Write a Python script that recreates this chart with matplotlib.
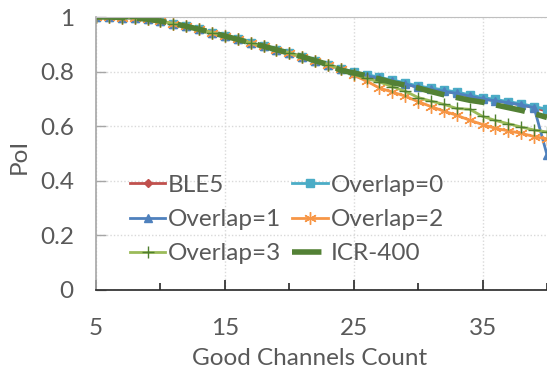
import matplotlib
matplotlib.use("Agg")
import matplotlib.pyplot as plt
from matplotlib.ticker import FixedLocator

# Datos
canales = list(range(5, 41))
y_ticks = [0, 0.2, 0.4, 0.6, 0.8, 1.0]
y_etiquetas = ["0", "0.2", "0.4", "0.6", "0.8", "1"]

inicio = [1.0, 1.0, 0.998, 0.996, 0.992, 0.985, 0.976, 0.966, 0.955, 0.943,
          0.930, 0.918, 0.905, 0.893, 0.880, 0.868, 0.855, 0.840, 0.826, 0.810]

ble5 = inicio + [0.795, 0.785, 0.775, 0.765, 0.755, 0.742, 0.735, 0.728,
                 0.720, 0.710, 0.700, 0.693, 0.686, 0.678, 0.668, 0.655]
overlap0 = inicio + [0.798, 0.789, 0.779, 0.769, 0.759, 0.747, 0.740, 0.733,
                     0.725, 0.715, 0.705, 0.698, 0.690, 0.682, 0.672, 0.662]
overlap1 = inicio + [0.795, 0.785, 0.775, 0.765, 0.755, 0.742, 0.735, 0.728,
                     0.720, 0.710, 0.700, 0.693, 0.686, 0.678, 0.668, 0.495]
overlap2 = inicio + [0.787, 0.765, 0.740, 0.725, 0.710, 0.690, 0.672, 0.655,
                     0.640, 0.622, 0.606, 0.592, 0.583, 0.574, 0.562, 0.553]
overlap3 = inicio + [0.790, 0.775, 0.762, 0.745, 0.728, 0.705, 0.692, 0.680,
                     0.665, 0.662, 0.636, 0.621, 0.609, 0.597, 0.586, 0.579]
icr400 = inicio[:-1] + [0.805, 0.795, 0.785, 0.773, 0.760, 0.750, 0.740, 0.727,
                        0.715, 0.705, 0.695, 0.688, 0.678, 0.668, 0.658, 0.646, 0.632]

series = [
    ("BLE5", ble5, "#C0504D", "D", 4.5, "#C0504D"),
    ("Overlap=0", overlap0, "#4BACC6", "s", 6, "#4BACC6"),
    ("Overlap=1", overlap1, "#4F81BD", "^", 6, "#4F81BD"),
    ("Overlap=2", overlap2, "#F79646", (6, 2, 0), 9, "#F79646"),
    ("Overlap=3", overlap3, "#9BBB59", "+", 9, "#4F7F2F"),
]

plt.rcParams["font.family"] = ["Lato", "DejaVu Sans"]
gris = "#595959"

fig = plt.figure(figsize=(5.47, 3.70), dpi=100)
ax = fig.add_axes([96 / 547, (370 - 290) / 370, 451 / 547, (290 - 17) / 370])

lineas = []
for nombre, valores, color, marca, tam, borde in series:
    l, = ax.plot(canales, valores, color=color, linewidth=2.0, marker=marca,
                 markersize=tam, markerfacecolor=color, markeredgecolor=borde,
                 markeredgewidth=1.0, label=nombre)
    lineas.append(l)

l, = ax.plot(canales, icr400, color="#538135", linewidth=4.0,
             linestyle=(0, (5.3, 2.1)), label="ICR-400")
lineas.append(l)

ax.set_xlim(5, 40)
ax.set_ylim(0, 1)
ax.xaxis.set_major_locator(FixedLocator([5, 15, 25, 35]))
ax.xaxis.set_minor_locator(FixedLocator([10, 20, 30, 40]))
ax.set_yticks(y_ticks)
ax.set_yticklabels(y_etiquetas)

ax.grid(axis="y", color="#d9d9d9", linestyle=(0, (1, 1.5)), linewidth=1)
ax.grid(axis="x", which="major", color="#d9d9d9", linestyle=(0, (1, 1.5)), linewidth=1)
ax.set_axisbelow(True)

ax.spines["right"].set_visible(False)
ax.spines["top"].set_color("#bfbfbf")
ax.spines["left"].set_color("#a6a6a6")
ax.spines["left"].set_linewidth(1.2)
ax.spines["bottom"].set_color("#262626")
ax.spines["bottom"].set_linewidth(1.2)

ax.tick_params(axis="x", which="major", direction="in", length=7, width=1.2,
               color="#262626", labelsize=17.5, labelcolor=gris, pad=20)
ax.tick_params(axis="x", which="minor", direction="in", length=5, width=1.2,
               color="#262626")
ax.tick_params(axis="y", direction="in", length=7, width=1, color="#a6a6a6",
               labelsize=17.5, labelcolor=gris, pad=16)

ax.set_xlabel("Good Channels Count", fontsize=17.5, color=gris)
ax.xaxis.set_label_coords((310 - 96) / 451, -0.212)
ax.set_ylabel("PoI", fontsize=17.5, color=gris)
ax.yaxis.set_label_coords(-0.148, 0.49)

# orden por filas como en el original
orden = [0, 2, 4, 1, 3, 5]
leg = ax.legend([lineas[i] for i in orden], [lineas[i].get_label() for i in orden],
                ncol=2, loc="lower left", bbox_to_anchor=(0.043, 0.04),
                frameon=False, fontsize=17.5, numpoints=1, handlelength=1.45,
                handletextpad=0.12, columnspacing=0.45, labelspacing=0.55,
                borderaxespad=0.2)
for texto in leg.get_texts():
    texto.set_color(gris)

fig.savefig("out.png", dpi=100)
